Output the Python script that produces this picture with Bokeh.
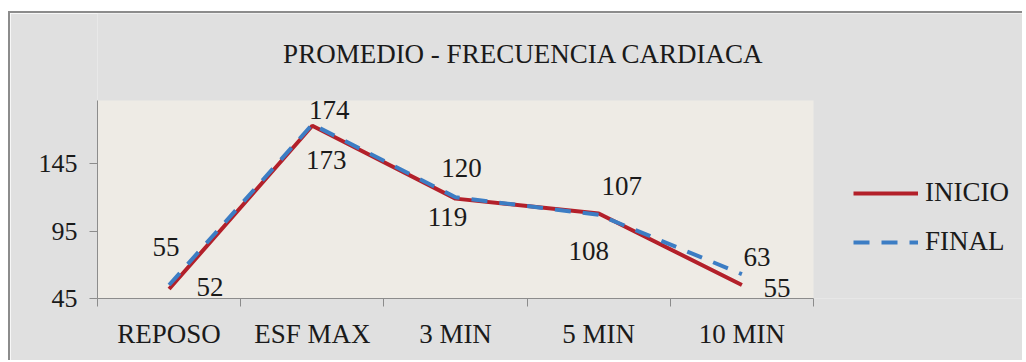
from bokeh.plotting import figure
from bokeh.models import (Range1d, FixedTicker, CustomJSTickFormatter, ColumnDataSource,
                          Legend, LegendItem, Label, BoxAnnotation)
from bokeh.core.properties import value
from bokeh.embed import file_html
from bokeh.resources import INLINE

categories = ["REPOSO", "ESF MAX", "3 MIN", "5 MIN", "10 MIN"]
inicio = [52, 173, 119, 108, 55]
final = [55, 174, 120, 107, 63]
y_ticks = [45, 95, 145]
title_text = "PROMEDIO - FRECUENCIA CARDIACA"

# label offsets in pixels (style only)
inicio_dx = [41, 14, -8, -10, 35]
inicio_dy = [-2, 34, 18, 38, 3]
final_dx = [-3, 17, 6, 23, 15]
final_dy = [-38, -14, -29, -29, -17]

FONT = "Liberation Serif"
RED = "#B3202A"
BLUE = "#3C7DC4"
GRID_GRAY = "#8c8c8c"
GRANITE = "#E0E0E0"
PLOT_BG = "#EEEBE5"

n = len(categories)
xs = [i + 0.5 for i in range(n)]

# layout (pixels): plot area 716 x 198 px inside a frame 927 x 285 px
Y_MIN, Y_MAX = 45, 191.7
PX_W, PX_H = 716, 198
FR_W, FR_H = 927, 285
x_end = n * FR_W / PX_W
y_end = Y_MIN + (Y_MAX - Y_MIN) * FR_H / PX_H

p = figure(width=1014, height=349, output_backend="svg", toolbar_location=None,
           x_range=Range1d(0, x_end), y_range=Range1d(Y_MIN, y_end),
           min_border_left=87, min_border_right=0, min_border_top=0,
           min_border_bottom=64)
p.margin = (11, 0, 0, 8)
p.styles = {"border-top": "2px solid #8c8c8c", "border-left": "2px solid #8c8c8c"}

p.background_fill_color = GRANITE
p.border_fill_color = GRANITE
p.outline_line_color = None
p.grid.visible = False

p.add_layout(BoxAnnotation(left=0, right=n, bottom=Y_MIN, top=Y_MAX,
                           fill_color=PLOT_BG, fill_alpha=1,
                           line_color=None, level="underlay"))

# title (centred over the whole chart box)
px_per_x = PX_W / n
px_per_y = PX_H / (Y_MAX - Y_MIN)
title_x = (523 - 97) / px_per_x
title_y = Y_MIN + (298 - 53) / px_per_y
p.add_layout(Label(x=title_x, y=title_y, text=title_text, text_font=FONT,
                   text_font_size="27px", text_color="#1a1a1a",
                   text_align="center", text_baseline="middle"))

# axes
xa = p.xaxis[0]
xa.bounds = (0, n)
xa.ticker = FixedTicker(ticks=xs, minor_ticks=list(range(n + 1)))
xa.formatter = CustomJSTickFormatter(args=dict(cats=categories),
                                     code="return cats[Math.floor(tick)] || '';")
xa.major_tick_out = 0
xa.major_tick_in = 0
xa.minor_tick_out = 8
xa.minor_tick_in = 0
xa.minor_tick_line_color = GRID_GRAY
xa.axis_line_color = GRID_GRAY
xa.major_label_standoff = 12
xa.major_label_text_font = FONT
xa.major_label_text_font_size = "27px"
xa.major_label_text_color = "#1a1a1a"

ya = p.yaxis[0]
ya.bounds = (Y_MIN, Y_MAX)
ya.ticker = FixedTicker(ticks=y_ticks)
ya.major_tick_out = 8
ya.major_tick_in = 0
ya.minor_tick_out = 0
ya.minor_tick_in = 0
ya.major_tick_line_color = GRID_GRAY
ya.axis_line_color = GRID_GRAY
ya.major_label_standoff = 12
ya.major_label_text_font = FONT
ya.major_label_text_font_size = "26px"
ya.major_label_text_color = "#1a1a1a"

src_i = ColumnDataSource(dict(x=xs, y=inicio, t=[str(v) for v in inicio],
                              dx=inicio_dx, dy=inicio_dy))
src_f = ColumnDataSource(dict(x=xs, y=final, t=[str(v) for v in final],
                              dx=final_dx, dy=final_dy))

r_i = p.line("x", "y", source=src_i, line_color=RED, line_width=4)
r_f = p.line("x", "y", source=src_f, line_color=BLUE, line_width=4, line_dash="16 12")

for src in (src_i, src_f):
    p.text("x", "y", text="t", source=src, x_offset="dx", y_offset="dy",
           text_font=value(FONT), text_font_size="27px", text_color="#1a1a1a",
           text_align="center", text_baseline="middle")

legend = Legend(items=[LegendItem(label="INICIO", renderers=[r_i]),
                       LegendItem(label="FINAL", renderers=[r_f])],
                location=(756, 41), orientation="vertical",
                glyph_width=65, glyph_height=30, label_height=30, label_standoff=7,
                spacing=18, padding=0, margin=0,
                background_fill_alpha=0, border_line_color=None,
                label_text_font=FONT, label_text_font_size="27px",
                label_text_color="#1a1a1a")
p.add_layout(legend, "center")

open("out.html", "w").write(file_html(p, INLINE))
